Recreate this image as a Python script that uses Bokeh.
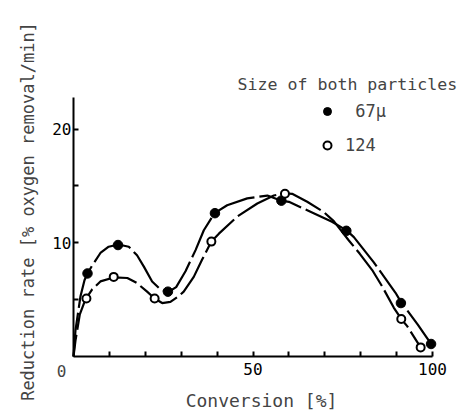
import math
from bokeh.plotting import figure
from bokeh.models import Range1d, FixedTicker, Label, Legend, LegendItem
from bokeh.embed import file_html
from bokeh.resources import INLINE

# ---- data ----
title_text = "Size of both particles"
series_names = [" 67\u03bc", "124"]
x_title = "Conversion [%]"
y_title = "Reduction rate [% oxygen removal/min]"

x_ticks = [10, 20, 30, 40, 50, 60, 70, 80, 90, 100]
x_tick_labels = {50: "50", 100: "100"}
y_ticks = [5, 10, 15, 20]
y_tick_labels = {10: "10", 20: "20"}
origin_label = "0"

# measured points, 67 micron (filled)
p67_x = [3.9, 12.4, 26.3, 39.4, 57.9, 76.0, 91.2, 99.6]
p67_y = [7.3, 9.8, 5.7, 12.6, 13.7, 11.05, 4.7, 1.1]
# measured points, 124 micron (open)
p124_x = [3.6, 11.2, 22.6, 38.4, 58.9, 91.3, 96.7]
p124_y = [5.1, 7.0, 5.1, 10.1, 14.3, 3.3, 0.8]

# hand-drawn fitted curves
c67_x = [0, 0.55, 1.95, 3.06, 3.9, 5.2, 7.5, 9.8, 12.5, 15.4, 17.7, 19.6, 21.9, 24.2,
         26.3, 28.6, 31.2, 34.0, 36.3, 39.3, 42.8, 48.4, 54.0, 57.9, 60.0, 66.9, 72.0,
         76.0, 78.1, 83.6, 89.7, 91.2, 95.9, 99.6]
c67_y = [0, 2.3, 5.3, 6.7, 7.3, 8.0, 9.1, 9.65, 9.85, 9.65, 8.9, 7.9, 6.6, 5.9,
         5.65, 6.1, 7.5, 9.35, 11.1, 12.6, 13.3, 13.9, 14.15, 13.7, 13.6, 12.6, 11.85,
         11.1, 10.5, 8.3, 5.6, 4.8, 2.8, 1.1]
c124_x = [0, 0.55, 1.76, 3.3, 5.2, 7.5, 11.2, 15.0, 17.7, 20.5, 22.6, 24.7, 27.0, 29.3,
          30.7, 33.5, 35.8, 38.4, 40.5, 45.6, 51.2, 55.8, 58.9, 60.9, 65.1, 69.7, 72.5,
          76.7, 79.7, 83.2, 86.0, 89.2, 91.3, 93.0, 95.9, 96.7]
c124_y = [0, 1.4, 3.7, 5.0, 5.9, 6.6, 6.95, 6.9, 6.45, 5.7, 5.1, 4.7, 4.8, 5.3,
          5.7, 7.0, 8.5, 10.1, 10.8, 12.3, 13.45, 14.15, 14.35, 14.3, 13.6, 12.7, 11.9,
          10.2, 9.05, 7.6, 6.15, 4.3, 3.3, 2.65, 1.2, 0.8]

FONT = "DejaVu Sans Mono"
W, H = 473, 411
# layout: pixel position of data origin and scale (px per unit)
OX, OY = 73.0, 356.0
SX, SY = 3.59, 11.375
Y_TOP = 22.77

p = figure(width=W, height=H,
           x_range=Range1d(-OX / SX, (W - OX) / SX),
           y_range=Range1d(-(H - OY) / SY, OY / SY),
           output_backend="svg", toolbar_location=None,
           min_border=0, min_border_left=0, min_border_right=0,
           min_border_top=0, min_border_bottom=0)
p.title = None
p.outline_line_color = None
p.xgrid.visible = False
p.ygrid.visible = False
p.background_fill_color = "white"
p.border_fill_color = "white"

for ax in (p.xaxis, p.yaxis):
    ax.fixed_location = 0
    ax.axis_line_width = 2
    ax.axis_line_color = "black"
    ax.major_tick_in = 5
    ax.major_tick_out = 0
    ax.major_tick_line_width = 2
    ax.major_tick_line_color = "black"
    ax.minor_tick_line_color = None
    ax.major_label_text_font = FONT
    ax.major_label_text_font_size = "16px"
    ax.major_label_text_color = "black"

p.xaxis.bounds = (0, 100)
p.xaxis.ticker = FixedTicker(ticks=x_ticks)
p.xaxis.major_label_overrides = {t: x_tick_labels.get(t, "") for t in x_ticks}
p.xaxis.major_label_standoff = 6
p.yaxis.bounds = (0, Y_TOP)
p.yaxis.ticker = FixedTicker(ticks=y_ticks)
p.yaxis.major_label_overrides = {t: y_tick_labels.get(t, "") for t in y_ticks}
p.yaxis.major_label_standoff = 2

dash = "44 5"
p.line(c67_x, c67_y, line_color="black", line_width=2.2, line_dash=dash)
p.line(c124_x, c124_y, line_color="black", line_width=2.2, line_dash=dash, line_dash_offset=22)

r67 = p.scatter(p67_x, p67_y, marker="circle", size=9.5, fill_color="black", line_color="black")
r124 = p.scatter(p124_x, p124_y, marker="circle", size=8, fill_color="white",
                 line_color="black", line_width=2)

legend = Legend(items=[LegendItem(label=series_names[0], renderers=[r67]),
                       LegendItem(label=series_names[1], renderers=[r124])],
                location=(317, H - 155), padding=0, margin=0, spacing=14,
                glyph_width=20, glyph_height=20, label_height=20, label_standoff=8,
                label_text_font=FONT, label_text_font_size="17px",
                border_line_color=None, background_fill_alpha=0)
p.add_layout(legend)

# pixel -> data helpers for text placement
def dx(px):
    return (px - OX) / SX

def dy(py):
    return (OY - py) / SY

p.add_layout(Label(x=dx(237), y=dy(84), text=title_text, text_font=FONT,
                   text_font_size="16.6px", text_align="left", text_baseline="alphabetic"))
p.add_layout(Label(x=dx(261), y=dy(400), text=x_title, text_font=FONT,
                   text_font_size="18px", text_align="center", text_baseline="middle"))
p.add_layout(Label(x=dx(27), y=dy(211), text=y_title, text_font=FONT, angle=math.pi / 2,
                   text_font_size="17px", text_align="center", text_baseline="middle"))
p.add_layout(Label(x=dx(61), y=dy(370), text=origin_label, text_font=FONT,
                   text_font_size="16px", text_align="center", text_baseline="middle"))

open("out.html", "w").write(file_html(p, INLINE))
